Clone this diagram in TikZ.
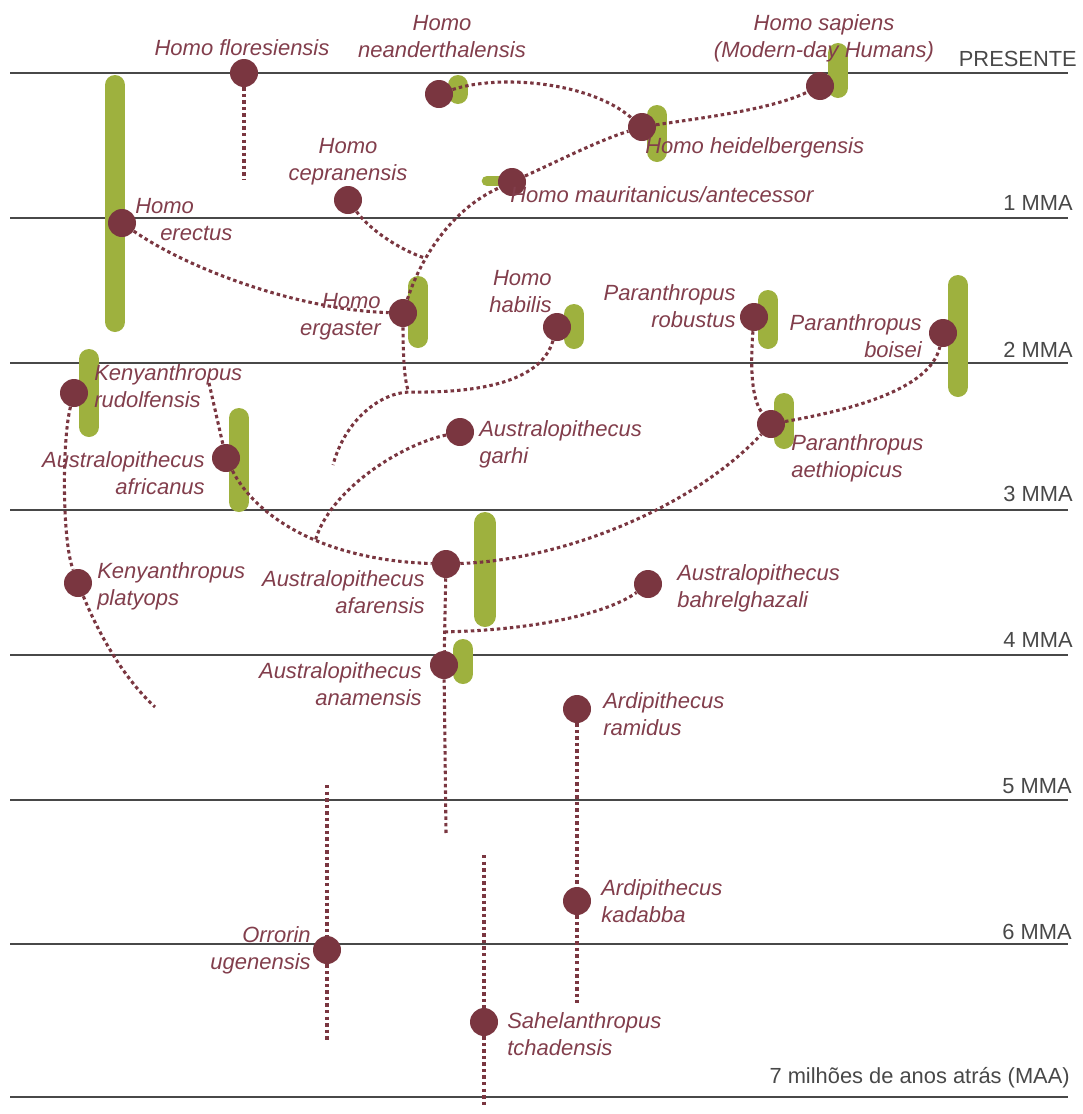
\documentclass[tikz,border=0pt]{standalone}
\usepackage{fontspec}
\setmainfont{Liberation Sans}
\definecolor{maroon}{RGB}{122,54,64}
\definecolor{labtxt}{RGB}{130,62,76}
\definecolor{leaf}{RGB}{158,177,62}
\definecolor{axisgray}{RGB}{72,72,72}
\pgfdeclarelayer{lines}
\pgfdeclarelayer{bars}
\pgfdeclarelayer{links}
\pgfsetlayers{lines,bars,links,main}
\begin{document}
\begin{tikzpicture}[x=0.75pt,y=-0.75pt,
  timeline/.style={draw=axisgray, line width=2.1pt},
  axislab/.style={font=\fontsize{16.4}{19}\selectfont, text=axisgray, inner sep=0pt, anchor=base east},
  sp/.style={font=\fontsize{16.5}{20.25}\selectfont\itshape, text=labtxt, inner sep=0pt},
  dot/.style={circle, fill=maroon, minimum size=21pt, inner sep=0pt},
  bar/.style={draw=leaf, line width=15pt, line cap=round},
  conn/.style={draw=maroon, line width=2.3pt, dash pattern=on 2.6pt off 2.3pt},
]
\useasboundingbox (0,0) rectangle (1082,1114);

% time lines
\begin{pgfonlayer}{lines}
\foreach \yy in {73,218,363,510,655,800,944,1097}
  \draw[timeline] (10,\yy) -- (1068,\yy);
\end{pgfonlayer}

% axis labels
\node[axislab] (tp) at (1077,66) {PRESENTE};
\node[axislab] (t1) at (1073,210) {1 MMA};
\node[axislab] (t2) at (1073,357) {2 MMA};
\node[axislab] (t3) at (1073,501) {3 MMA};
\node[axislab] (t4) at (1073,647) {4 MMA};
\node[axislab] (t5) at (1072,793) {5 MMA};
\node[axislab] (t6) at (1072,939) {6 MMA};
\node[axislab] (t7) at (1070,1083) {7 milhões de anos atrás (MAA)};

% green ranges
\begin{pgfonlayer}{bars}
\draw[bar] (115,85) -- (115,322);
\draw[bar] (458,85) -- (458,94);
\draw[bar] (657,115) -- (657,152);
\draw[bar] (838,53) -- (838,88);
\draw[bar, line width=8pt] (487,181) -- (505,181);
\draw[bar] (418,286) -- (418,338);
\draw[bar] (574,314) -- (574,339);
\draw[bar] (768,300) -- (768,339);
\draw[bar] (958,285) -- (958,387);
\draw[bar] (89,359) -- (89,427);
\draw[bar] (239,418) -- (239,502);
\draw[bar] (784,403) -- (784,439);
\draw[bar, line width=16.5pt] (485,523) -- (485,616);
\draw[bar] (463,649) -- (463,674);
\end{pgfonlayer}

% species dots
\node[dot] (flor) at (244,73) {};
\node[dot] (neand) at (439,94) {};
\node[dot] (heid) at (642,127) {};
\node[dot] (sap) at (820,86) {};
\node[dot] (maur) at (512,182) {};
\node[dot] (cep) at (348,200) {};
\node[dot] (erec) at (122,223) {};
\node[dot] (erg) at (403,313) {};
\node[dot] (hab) at (557,327) {};
\node[dot] (rob) at (754,317) {};
\node[dot] (bois) at (943,333) {};
\node[dot] (rud) at (74,393) {};
\node[dot] (afri) at (226,458) {};
\node[dot] (garhi) at (460,432) {};
\node[dot] (aeth) at (771,424) {};
\node[dot] (afar) at (446,564) {};
\node[dot] (bahr) at (648,584) {};
\node[dot] (plat) at (78,583) {};
\node[dot] (anam) at (444,665) {};
\node[dot] (ramid) at (577,709) {};
\node[dot] (kad) at (577,901) {};
\node[dot] (orr) at (327,950) {};
\node[dot] (sahel) at (484,1022) {};

% free ends
\coordinate (florend) at (244,180);
\coordinate (j2) at (409,392);
\coordinate (fadeA) at (333,465);
\coordinate (fadeB) at (155,707);
\coordinate (rudtop) at (209,383);
\coordinate (fadeC) at (446,833);
\coordinate (fadeD) at (577,1003);
\coordinate (orrtop) at (327,785);
\coordinate (orrbot) at (327,1040);
\coordinate (saheltop) at (484,855);
\coordinate (sahelbot) at (484,1108);

% connectors
\begin{pgfonlayer}{links}
\draw[conn] (flor) -- (florend);
\draw[conn] (neand) .. controls (500,74) and (590,82) .. (heid);
\draw[conn] (heid) .. controls (700,118) and (770,110) .. (sap);
\draw[conn] (maur) .. controls (560,160) and (600,140) .. (heid);
\draw[conn] (erg) .. controls (420,260) and (450,210) .. (maur) coordinate[pos=0.33] (j1);
\draw[conn] (cep) .. controls (370,230) and (400,250) .. (j1);
\draw[conn] (erec) .. controls (190,270) and (300,310) .. (erg);
\draw[conn] (erg) .. controls (403,360) and (405,385) .. (j2);
\draw[conn] (hab) .. controls (540,385) and (470,393) .. (j2) .. controls (380,393) and (345,420) .. (fadeA);
\draw[conn] (afri) .. controls (255,515) and (320,560) .. (afar) coordinate[pos=0.58] (j3);
\draw[conn] (garhi) .. controls (400,445) and (330,490) .. (j3);
\draw[conn] (rud) .. controls (62,440) and (62,540) .. (plat);
\draw[conn] (plat) .. controls (95,625) and (120,675) .. (fadeB);
\draw[conn] (rudtop) -- (afri);
\draw[conn] (afar) .. controls (560,560) and (690,510) .. (aeth);
\draw[conn] (rob) .. controls (750,370) and (752,400) .. (aeth);
\draw[conn] (aeth) .. controls (850,410) and (930,390) .. (bois);
\draw[conn] (afar) -- (anam) coordinate[pos=0.74] (j4);
\draw[conn] (j4) .. controls (540,630) and (610,612) .. (bahr);
\draw[conn] (anam) -- (fadeC);
\draw[conn] (ramid) -- (kad);
\draw[conn] (kad) -- (fadeD);
\draw[conn] (orrtop) -- (orr);
\draw[conn] (orr) -- (orrbot);
\draw[conn] (saheltop) -- (sahel);
\draw[conn] (sahel) -- (sahelbot);
\end{pgfonlayer}

% species labels (two-line labels anchored at the baseline of their last line)
\node[sp, anchor=base] (lflor) at (242,55) {Homo floresiensis};
\node[sp, anchor=base, align=center] (lneand) at (442,57) {Homo\\neanderthalensis};
\node[sp, anchor=base, align=center] (lsap) at (824,57) {Homo sapiens\\(Modern-day Humans)};
\node[sp, anchor=base west] (lheid) at (645,153) {Homo heidelbergensis};
\node[sp, anchor=base west] (lmaur) at (510,202) {Homo mauritanicus/antecessor};
\node[sp, anchor=base, align=center] (lcep) at (348,180) {Homo\\cepranensis};
\node[sp, anchor=base west] (lerec1) at (135,213) {Homo};
\node[sp, anchor=base west] (lerec2) at (160,240) {erectus};
\node[sp, anchor=base east, align=right] (lerg) at (381,335) {Homo\\ergaster};
\node[sp, anchor=base east, align=right] (lhab) at (552,312) {Homo\\habilis};
\node[sp, anchor=base east, align=right] (lrob) at (736,327) {Paranthropus\\robustus};
\node[sp, anchor=base east, align=right] (lbois) at (922,357) {Paranthropus\\boisei};
\node[sp, anchor=base west, align=left] (lrud) at (94,407) {Kenyanthropus\\rudolfensis};
\node[sp, anchor=base east, align=right] (lafri) at (205,494) {Australopithecus\\africanus};
\node[sp, anchor=base west, align=left] (lplat) at (97,605) {Kenyanthropus\\platyops};
\node[sp, anchor=base east, align=right] (lafar) at (425,613) {Australopithecus\\afarensis};
\node[sp, anchor=base east, align=right] (lanam) at (422,705) {Australopithecus\\anamensis};
\node[sp, anchor=base west, align=left] (lgarhi) at (479,463) {Australopithecus\\garhi};
\node[sp, anchor=base west, align=left] (lbahr) at (677,607) {Australopithecus\\bahrelghazali};
\node[sp, anchor=base west, align=left] (laeth) at (791,477) {Paranthropus\\aethiopicus};
\node[sp, anchor=base west, align=left] (lramid) at (603,735) {Ardipithecus\\ramidus};
\node[sp, anchor=base west, align=left] (lkad) at (601,922) {Ardipithecus\\kadabba};
\node[sp, anchor=base east, align=right] (lorr) at (311,969) {Orrorin\\ugenensis};
\node[sp, anchor=base west, align=left] (lsahel) at (507,1055) {Sahelanthropus\\tchadensis};
\end{tikzpicture}
\end{document}
